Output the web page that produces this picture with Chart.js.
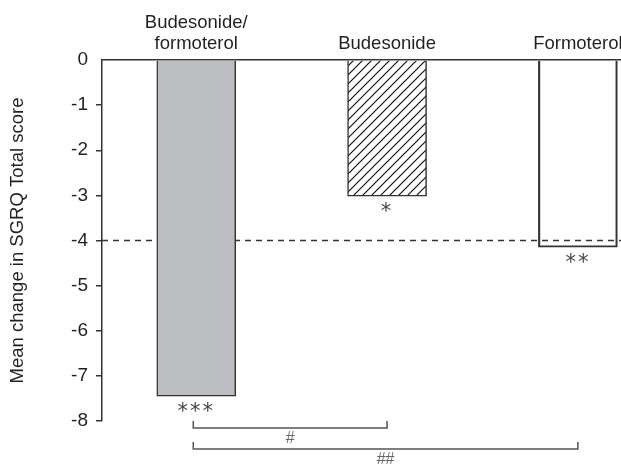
<!DOCTYPE html>
<html>
<head>
<meta charset="utf-8">
<script src="https://cdn.jsdelivr.net/npm/chart.js@4"></script>
<style>
  html, body { margin: 0; padding: 0; background: #fff; }
  canvas { display: block; }
</style>
</head>
<body>
<canvas id="chart" width="621" height="468"></canvas>
<script>
// ── Data ──
const categories  = [['Budesonide/', 'formoterol'], 'Budesonide', 'Formoterol'];
const meanChange  = [-7.45, -3.02, -4.15];
const significance = ['***', '*', '**'];
const yTicks      = [0, -1, -2, -3, -4, -5, -6, -7, -8];
const referenceLine = -4;
// pairwise comparisons: [from bar, to bar, label]
const comparisons = [[0, 1, '#'], [0, 2, '##']];

const INK = '#231f20';

// diagonal hatch for the budesonide bar
function hatch() {
    const s = 9;
    const c = document.createElement('canvas');
    c.width = s; c.height = s;
    const g = c.getContext('2d');
    g.fillStyle = '#fff';
    g.fillRect(0, 0, s, s);
    g.strokeStyle = '#111';
    g.lineWidth = 1.2;
    g.beginPath();
    g.moveTo(-1, s + 1); g.lineTo(s + 1, -1);
    g.moveTo(-2, 2);     g.lineTo(2, -2);
    g.moveTo(s - 2, s + 2); g.lineTo(s + 2, s - 2);
    g.stroke();
    return g.createPattern(c, 'repeat');
}

// ── Dashed reference line (behind bars) ──
const refLinePlugin = {
    id: 'refLine',
    beforeDatasetsDraw(chart) {
        const { ctx, chartArea, scales } = chart;
        const y = scales.y.getPixelForValue(referenceLine);
        ctx.save();
        ctx.strokeStyle = '#333';
        ctx.lineWidth = 1.3;
        ctx.setLineDash([6, 5]);
        ctx.beginPath();
        ctx.moveTo(chartArea.left, y);
        ctx.lineTo(chartArea.right, y);
        ctx.stroke();
        ctx.restore();
    }
};

// ── Asterisks under bars and comparison brackets ──
const annotationsPlugin = {
    id: 'annotations',
    afterDraw(chart) {
        const { ctx, chartArea } = chart;
        const bars = chart.getDatasetMeta(0).data;

        ctx.save();
        ctx.fillStyle = '#444';
        ctx.font = '21px "DejaVu Sans"';
        ctx.textAlign = 'center';
        ctx.textBaseline = 'alphabetic';
        ctx.letterSpacing = '2px';
        bars.forEach((bar, i) => {
            ctx.fillText(significance[i], bar.x, bar.y + 22);
        });
        ctx.restore();

        ctx.save();
        ctx.strokeStyle = '#555';
        ctx.lineWidth = 1.5;
        ctx.fillStyle = '#666';
        ctx.font = '16px "Liberation Sans"';
        ctx.textAlign = 'center';
        ctx.textBaseline = 'middle';
        comparisons.forEach(([a, b, label], k) => {
            const x1 = bars[a].x - 3;
            const x2 = bars[b].x;
            const y = chartArea.bottom + 7 + k * 21;
            ctx.beginPath();
            ctx.moveTo(x1, y - 7);
            ctx.lineTo(x1, y);
            ctx.lineTo(x2, y);
            ctx.lineTo(x2, y - 7);
            ctx.stroke();
            ctx.fillText(label, (x1 + x2) / 2, y + 11);
        });
        ctx.restore();
    }
};

new Chart(document.getElementById('chart'), {
    type: 'bar',
    data: {
        datasets: [{
            data: meanChange.map((v, i) => ({ x: i + 1, y: v })),
            backgroundColor: ['#bcbdc0', hatch(), 'rgba(255,255,255,0)'],
            borderColor: '#333',
            borderWidth: 1.5,
            barThickness: 79
        }]
    },
    options: {
        responsive: false,
        animation: false,
        devicePixelRatio: 1,
        layout: { padding: { top: 0, right: 0, bottom: 47, left: 0 } },
        plugins: { legend: { display: false }, tooltip: { enabled: false } },
        scales: {
            x: {
                type: 'linear',
                position: 'top',
                offset: false,
                min: 0.506,
                max: 3.226,
                afterBuildTicks: s => { s.ticks = categories.map((c, i) => ({ value: i + 1 })); },
                afterFit: s => { s.height = 60; s.paddingLeft = 0; s.paddingRight = 0; },
                ticks: {
                    autoSkip: false,
                    maxRotation: 0,
                    padding: 5,
                    color: INK,
                    font: { family: 'Liberation Sans', size: 18.5, lineHeight: 1.15 },
                    callback: v => categories[v - 1]
                },
                grid: { display: true, offset: false, drawOnChartArea: false, drawTicks: false },
                border: { color: '#333', width: 1.5 }
            },
            y: {
                min: -8,
                max: 0,
                afterBuildTicks: s => { s.ticks = yTicks.map(v => ({ value: v })); },
                afterFit: s => { s.width = 102; },
                ticks: {
                    padding: 8,
                    color: INK,
                    font: { family: 'Liberation Sans', size: 19 },
                    callback: v => String(v)
                },
                grid: {
                    drawOnChartArea: false,
                    tickLength: 6,
                    lineWidth: 1.5,
                    color: c => (c.tick && c.tick.value === 0) ? 'rgba(0,0,0,0)' : '#333'
                },
                border: { color: '#333', width: 1.5 },
                title: {
                    display: true,
                    text: 'Mean change in SGRQ Total score',
                    color: INK,
                    font: { family: 'Liberation Sans', size: 18.5 },
                    padding: { top: 7, bottom: 0 }
                }
            }
        }
    },
    plugins: [refLinePlugin, annotationsPlugin]
});
</script>
</body>
</html>
